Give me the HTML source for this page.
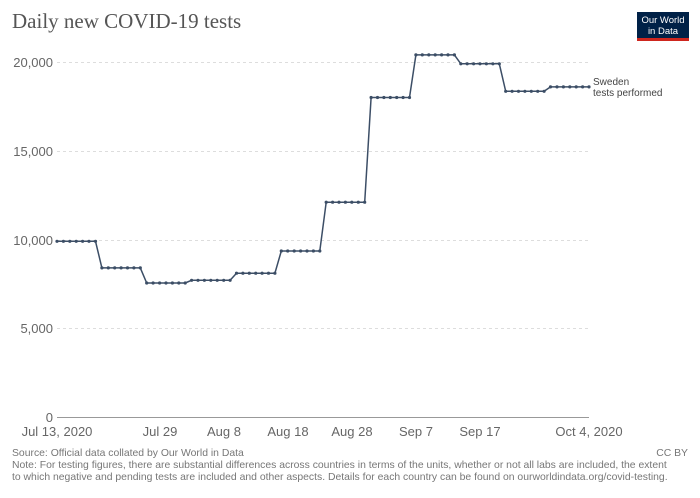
<!DOCTYPE html>
<html><head><meta charset="utf-8"><style>
body{margin:0;background:#fff;width:700px;height:493px;overflow:hidden;font-family:"Liberation Sans",sans-serif}
</style></head><body>
<svg width="700" height="493" xmlns="http://www.w3.org/2000/svg" font-family="Liberation Sans, sans-serif">
<text x="12" y="28" font-family="Liberation Serif, serif" font-size="21" fill="#555">Daily new COVID-19 tests</text>
<rect x="637" y="12" width="52" height="29" fill="#002147"/>
<rect x="637" y="38" width="52" height="3" fill="#ce261e"/>
<text x="663" y="23" font-size="9.5" fill="#fff" text-anchor="middle">Our World</text>
<text x="663" y="34" font-size="9.5" fill="#fff" text-anchor="middle">in Data</text>
<g stroke="#ddd" stroke-dasharray="3,3" stroke-width="1">
<line x1="57" x2="589" y1="62.5" y2="62.5"/>
<line x1="57" x2="589" y1="151.5" y2="151.5"/>
<line x1="57" x2="589" y1="240.5" y2="240.5"/>
<line x1="57" x2="589" y1="328.5" y2="328.5"/>
</g>
<line x1="57" x2="589" y1="417.5" y2="417.5" stroke="#999"/>
<g font-size="13" fill="#666" text-anchor="end">
<text x="53" y="67">20,000</text><text x="53" y="156">15,000</text>
<text x="53" y="245">10,000</text><text x="53" y="333">5,000</text><text x="53" y="422">0</text>
</g>
<g font-size="13" fill="#666" text-anchor="middle">
<text x="57" y="436">Jul 13, 2020</text><text x="160" y="436">Jul 29</text>
<text x="224" y="436">Aug 8</text><text x="288" y="436">Aug 18</text>
<text x="352" y="436">Aug 28</text><text x="416" y="436">Sep 7</text>
<text x="480" y="436">Sep 17</text><text x="589" y="436">Oct 4, 2020</text>
</g>
<g id="series"></g>
<text x="593" y="85" font-size="10" fill="#444">Sweden</text>
<text x="593" y="96" font-size="10" fill="#444">tests performed</text>
<g font-size="10.4" fill="#777">
<text x="12" y="456">Source: Official data collated by Our World in Data</text>
<text x="688" y="456" text-anchor="end">CC BY</text>
<text x="12" y="468">Note: For testing figures, there are substantial differences across countries in terms of the units, whether or not all labs are included, the extent</text>
<text x="12" y="480">to which negative and pending tests are included and other aspects. Details for each country can be found on ourworldindata.org/covid-testing.</text>
</g>
</svg>
<script>
var vals=[9900,8400,7550,7700,8100,9350,12100,18000,20400,19900,18350,18600];
var g=document.getElementById('series'),pts=[],dots='';
for(var d=0;d<84;d++){var v=vals[Math.floor(d/7)];var x=57+d*532/83,y=417-v*0.01775;pts.push(x.toFixed(1)+','+y.toFixed(1));dots+='<circle cx="'+x.toFixed(1)+'" cy="'+y.toFixed(1)+'" r="1.6" fill="#3c4e66"/>';}
g.innerHTML='<polyline points="'+pts.join(' ')+'" fill="none" stroke="#3c4e66" stroke-width="1.5"/>'+dots;
</script>
</body></html>
